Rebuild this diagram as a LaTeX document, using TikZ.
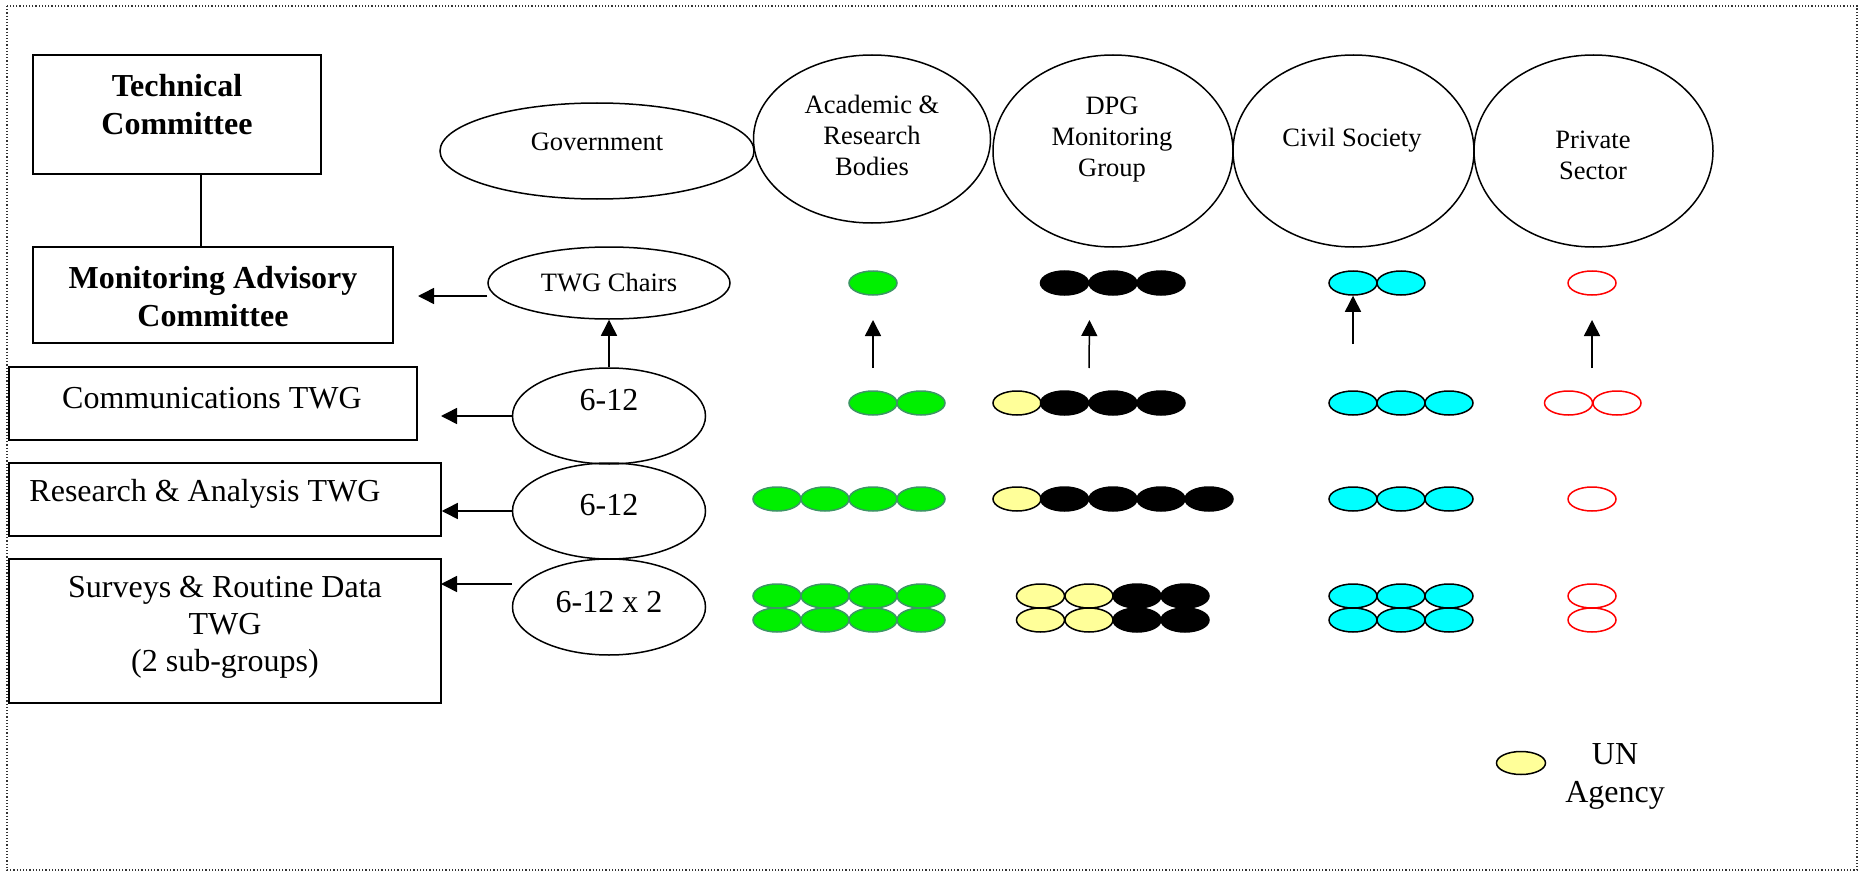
\documentclass[tikz,border=0pt]{standalone}
\usepackage{fontspec}
\setmainfont{Liberation Serif}
\usetikzlibrary{shapes.geometric,arrows.meta}
\definecolor{dgreen}{RGB}{0,240,0}
\definecolor{dgreenline}{RGB}{60,150,100}
\definecolor{dyellow}{RGB}{255,255,153}
\definecolor{dcyan}{RGB}{0,255,255}
\definecolor{dred}{RGB}{255,0,0}
\tikzset{
  box/.style={draw, line width=0.75pt, rectangle, inner sep=0pt},
  bigell/.style={draw, line width=0.75pt, ellipse, inner sep=0pt},
  boxtext/.style={font=\fontsize{16}{19}\selectfont, align=center, inner sep=0pt},
  elltext/.style={font=\fontsize{13.25}{15.5}\selectfont, align=center, inner sep=0pt},
  arr/.style={line width=0.75pt, -{Triangle[length=8pt,width=8pt]}},
  dotbase/.style={ellipse, minimum width=24pt, minimum height=12pt, inner sep=0pt, line width=0.75pt},
  gdot/.style={dotbase, draw=dgreenline, fill=dgreen},
  kdot/.style={dotbase, draw=black, fill=black},
  ydot/.style={dotbase, draw=black, fill=dyellow},
  cdot/.style={dotbase, draw=black, fill=dcyan},
  rdot/.style={dotbase, draw=dred, fill=white},
}
\begin{document}
\begin{tikzpicture}[x=0.5pt,y=-0.5pt]
\useasboundingbox (0,0) rectangle (1864,872);
\draw[densely dotted, line width=0.6pt, black!80] (7,6) rectangle (1857,870);

% left boxes
\node[box, minimum width=144pt, minimum height=59.5pt] (tech) at (177,114.5) {};
\node[boxtext, font=\fontsize{16}{19}\selectfont\bfseries] (tech-t) at (177,105) {Technical\\Committee};
\node[box, minimum width=180pt, minimum height=48pt] (mac) at (213,295) {};
\node[boxtext, font=\fontsize{16}{19}\selectfont\bfseries] (mac-t) at (213,297) {Monitoring Advisory\\Committee};
\node[box, minimum width=204pt, minimum height=36.5pt] (comm) at (213,403.5) {};
\node[boxtext] (comm-t) at (212,398) {Communications TWG};
\node[box, minimum width=216pt, minimum height=36.5pt] (res) at (225,499.5) {};
\node[boxtext] (res-t) at (205,494) {Research \& Analysis TWG};
\node[box, minimum width=216pt, minimum height=72pt] (surv) at (225,631) {};
\node[boxtext, font=\fontsize{16}{18.5}\selectfont] (surv-t) at (225,627) {Surveys \& Routine Data\\TWG\\(2 sub-groups)};

\coordinate (linex) at (201,0);
\draw[line width=0.75pt] (tech.south -| linex) -- (mac.north -| linex);

% government column
\node[bigell, minimum width=157pt, minimum height=48pt] (gov) at (597,151) {};
\node[elltext] (gov-t) at (597,142) {Government};
\node[bigell, minimum width=121pt, minimum height=36pt] (chairs) at (609,283) {};
\node[elltext] (chairs-t) at (609,283) {TWG Chairs};
\node[bigell, minimum width=96.5pt, minimum height=48pt] (e1) at (609,416) {};
\node[boxtext] (e1-t) at (609,400) {6-12};
\node[bigell, minimum width=96.5pt, minimum height=48pt] (e2) at (609,511) {};
\node[boxtext] (e2-t) at (609,505) {6-12};
\node[bigell, minimum width=96.5pt, minimum height=48pt] (e3) at (609,607) {};
\node[boxtext] (e3-t) at (609,602) {6-12 x 2};

% big stakeholder ellipses
\node[bigell, minimum width=118.5pt, minimum height=84pt] (acad) at (872,139) {};
\node[elltext] (acad-t) at (872,135) {Academic \&\\Research\\Bodies};
\node[bigell, minimum width=120pt, minimum height=96pt] (dpg) at (1113,151) {};
\node[elltext] (dpg-t) at (1112,140) {DPG\\Monitoring\\Group};
\node[bigell, minimum width=120.5pt, minimum height=96pt] (civ) at (1353.5,151) {};
\node[elltext] (civ-t) at (1352,140) {Civil Society};
\node[bigell, minimum width=119.5pt, minimum height=96pt] (priv) at (1593.5,151) {};
\node[elltext] (priv-t) at (1593,155) {Private\\Sector};

% arrows on the left
\coordinate (macin) at (418,296);
\draw[arr] (chairs.west |- macin) -- (macin);
\coordinate (commin) at (441,416);
\draw[arr] (e1.west) -- (commin);
\draw[arr] (e2.west) -- (e2.west -| res.east);
\coordinate (survin) at (441,584);
\draw[arr] (e3.west |- survin) -- (survin);
\draw[arr] (e1.north) -- (chairs.south);

% row 1 (TWG chairs)
\node[gdot] (r1g1) at (873,283) {};
\foreach \x [count=\i] in {1064.5,1113,1161} \node[kdot] (r1k\i) at (\x,283) {};
\foreach \x [count=\i] in {1353,1401} \node[cdot] (r1c\i) at (\x,283) {};
\node[rdot] (r1r1) at (1592,283) {};

% row 2 (communications)
\foreach \x [count=\i] in {873,921} \node[gdot] (r2g\i) at (\x,403) {};
\node[ydot] (r2y1) at (1017,403) {};
\foreach \x [count=\i] in {1064.5,1113,1161} \node[kdot] (r2k\i) at (\x,403) {};
\foreach \x [count=\i] in {1353,1401,1449} \node[cdot] (r2c\i) at (\x,403) {};
\foreach \x [count=\i] in {1568.5,1617} \node[rdot] (r2r\i) at (\x,403) {};

% row 3 (research)
\foreach \x [count=\i] in {777,825,873,921} \node[gdot] (r3g\i) at (\x,499) {};
\node[ydot] (r3y1) at (1017,499) {};
\foreach \x [count=\i] in {1064.5,1113,1161,1209} \node[kdot] (r3k\i) at (\x,499) {};
\foreach \x [count=\i] in {1353,1401,1449} \node[cdot] (r3c\i) at (\x,499) {};
\node[rdot] (r3r1) at (1592,499) {};

% row 4 (surveys, two sub-rows)
\foreach \y [count=\j] in {596,620} {
  \foreach \x [count=\i] in {777,825,873,921} \node[gdot] (r4g\j\i) at (\x,\y) {};
  \foreach \x [count=\i] in {1040.5,1089} \node[ydot] (r4y\j\i) at (\x,\y) {};
  \foreach \x [count=\i] in {1137,1185} \node[kdot] (r4k\j\i) at (\x,\y) {};
  \foreach \x [count=\i] in {1353,1401,1449} \node[cdot] (r4c\j\i) at (\x,\y) {};
  \node[rdot] (r4r\j) at (1592,\y) {};
}

% upward arrows
\coordinate (ag) at (873,368);
\coordinate (agt) at (873,320);
\draw[arr] (ag) -- (agt);
\coordinate (ad) at (1089,368);
\coordinate (adt) at (1089.5,320);
\draw[arr] (ad) -- (adt);
\coordinate (ac) at (1353,344);
\draw[arr] (ac) -- (r1c1.south);
\coordinate (ar) at (1592,368);
\coordinate (art) at (1592,320);
\draw[arr] (ar) -- (art);

% legend
\node[ydot, minimum width=24.5pt, minimum height=11.5pt] (leg) at (1521,763) {};
\node[boxtext] (leg-t) at (1615,776) {UN\\Agency};
\end{tikzpicture}
\end{document}
